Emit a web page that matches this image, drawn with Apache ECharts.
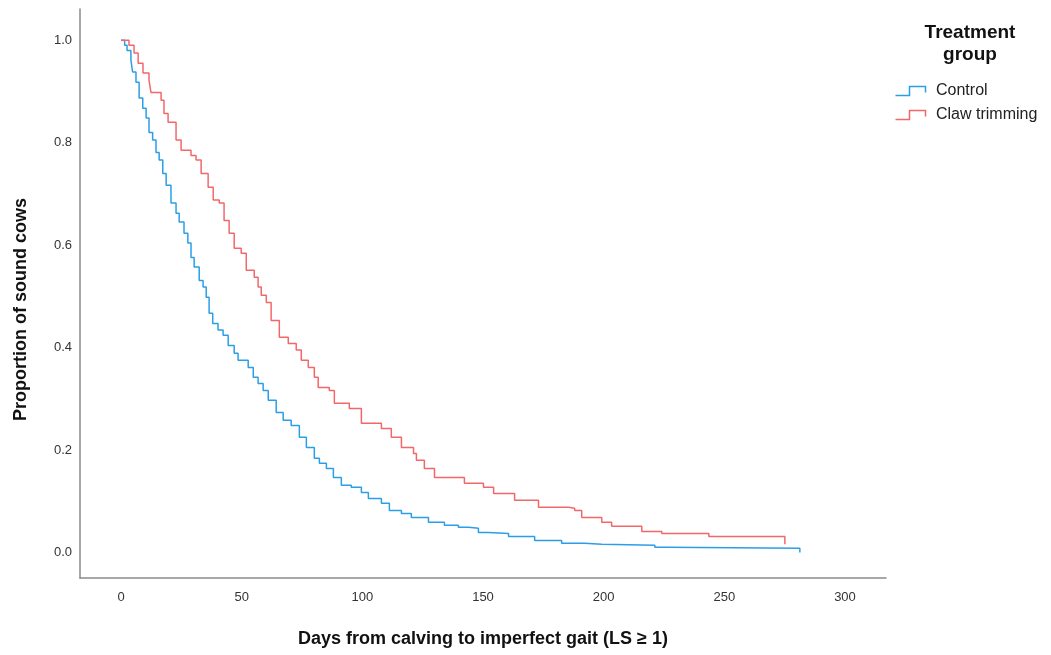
<!DOCTYPE html>
<html>
<head>
<meta charset="utf-8">
<title>Proportion of sound cows</title>
<script src="https://cdn.jsdelivr.net/npm/echarts@6/dist/echarts.min.js"></script>
<style>
  html, body { margin: 0; padding: 0; background: #fff; }
  #chart { width: 1051px; height: 655px; }
</style>
</head>
<body>
<div id="chart"></div>
<script>
// 读取自原图的阶梯点 (天数, 生存比例)
var controlDays = [0, 1.5, 2.5, 4.1, 4.8, 6.2, 7.5, 9.0, 10.4, 11.6, 13.1, 14.5, 15.8, 17.3, 18.7, 20.7,
    22.8, 24.1, 26.1, 27.7, 29.0, 30.3, 32.4, 34.0, 35.3, 36.5, 38.0, 40.2, 42.3, 44.4, 46.9, 48.5,
    52.7, 54.8, 56.8, 58.9, 61.0, 64.3, 67.2, 70.5, 73.9, 76.8, 80.1, 82.2, 85.1, 88.0, 91.3, 95.4,
    99.6, 102.5, 107.9, 111.2, 116.2, 120.3, 127.4, 134.0, 139.8, 144.0, 148.1, 152.3, 160.6, 171.4,
    182.6, 192.1, 199.2, 221.2, 226.1, 281.3];
var controlSurv = [1.0, 0.99, 0.98, 0.961, 0.938, 0.918, 0.887, 0.867, 0.848, 0.820, 0.805, 0.781, 0.766, 0.740, 0.717, 0.682,
    0.662, 0.645, 0.623, 0.604, 0.576, 0.557, 0.531, 0.518, 0.498, 0.467, 0.447, 0.434, 0.424, 0.404, 0.389, 0.375,
    0.361, 0.342, 0.330, 0.316, 0.297, 0.273, 0.258, 0.248, 0.225, 0.205, 0.184, 0.174, 0.164, 0.146, 0.131, 0.127,
    0.117, 0.105, 0.096, 0.082, 0.076, 0.068, 0.059, 0.053, 0.049, 0.047, 0.039, 0.037, 0.031, 0.023,
    0.018, 0.016, 0.014, 0.010, 0.008, 0.0];

var trimDays = [0, 3.3, 5.4, 7.1, 9.1, 11.6, 12.4, 16.6, 17.8, 19.5, 22.8, 24.9, 29.0, 31.1, 33.2, 36.1,
    38.2, 40.7, 42.7, 44.8, 46.9, 49.8, 51.9, 55.2, 56.8, 58.1, 60.2, 62.2, 65.6, 69.3, 72.6, 74.7,
    77.6, 80.1, 81.7, 86.3, 88.4, 94.6, 99.6, 107.9, 112.0, 116.2, 121.2, 122.4, 125.7, 129.9, 142.3,
    150.2, 154.4, 163.1, 173.0, 185.5, 188.0, 190.9, 199.2, 203.3, 215.8, 224.1, 243.6, 275.1];
var trimSurv = [1.0, 0.99, 0.975, 0.955, 0.936, 0.922, 0.898, 0.883, 0.857, 0.840, 0.805, 0.785, 0.775, 0.766, 0.740, 0.713,
    0.688, 0.682, 0.648, 0.623, 0.594, 0.584, 0.551, 0.537, 0.518, 0.502, 0.488, 0.453, 0.420, 0.408, 0.395, 0.375,
    0.361, 0.342, 0.322, 0.316, 0.291, 0.281, 0.252, 0.242, 0.225, 0.205, 0.193, 0.180, 0.164, 0.146, 0.135,
    0.127, 0.115, 0.102, 0.088, 0.086, 0.082, 0.068, 0.059, 0.051, 0.041, 0.037, 0.031, 0.016];

var xTicks = [0, 50, 100, 150, 200, 250, 300];
var yTicks = [0, 0.2, 0.4, 0.6, 0.8, 1.0];

function toPairs(xs, ys) {
    var arr = [];
    for (var i = 0; i < xs.length; i++) {
        arr.push([xs[i], ys[i]]);
    }
    return arr;
}

var fontName = "'Liberation Sans', Arial, sans-serif";
var axisGray = '#8a8a8a';
var stepIcon = 'path://M0,9 L14,9 L14,0 L30,0 L30,6';

var myChart = echarts.init(document.getElementById('chart'), null, { renderer: 'canvas' });

var option = {
    animation: false,
    backgroundColor: '#fff',
    textStyle: { fontFamily: fontName },
    grid: { left: 80, right: 165, top: 9, bottom: 77, containLabel: false, outerBoundsMode: 'none' },
    xAxis: {
        type: 'value',
        min: -17,
        max: 317,
        name: 'Days from calving to imperfect gait (LS \u2265 1)',
        nameLocation: 'middle',
        nameGap: 52,
        nameTextStyle: { fontSize: 18, fontWeight: 'bold', color: '#111', fontFamily: fontName },
        axisLine: { show: true, onZero: false, lineStyle: { color: axisGray, width: 1.5 } },
        axisTick: { show: false },
        splitLine: { show: false },
        axisLabel: { customValues: xTicks, fontSize: 13, color: '#333', margin: 13, fontFamily: fontName }
    },
    yAxis: {
        type: 'value',
        min: -0.05,
        max: 1.061,
        name: 'Proportion of sound cows',
        nameLocation: 'middle',
        nameGap: 50,
        nameRotate: 90,
        nameTextStyle: { fontSize: 18, fontWeight: 'bold', color: '#111', fontFamily: fontName, padding: [0, 32, 0, 0] },
        axisLine: { show: true, onZero: false, lineStyle: { color: axisGray, width: 1.5 } },
        axisTick: { show: false },
        splitLine: { show: false },
        axisLabel: {
            customValues: yTicks, fontSize: 13, color: '#333', margin: 8, fontFamily: fontName,
            formatter: function (v) { return v.toFixed(1); }
        }
    },
    legend: {
        orient: 'vertical',
        left: 888,
        top: 78,
        itemWidth: 33,
        itemHeight: 9,
        itemGap: 8,
        textStyle: { fontSize: 16, color: '#222', fontFamily: fontName, padding: [0, 0, 0, 4] },
        data: [
            { name: 'Control', icon: stepIcon, itemStyle: { color: 'none', borderColor: '#2a9fe8', borderWidth: 1.5 } },
            { name: 'Claw trimming', icon: stepIcon, itemStyle: { color: 'none', borderColor: '#f2686a', borderWidth: 1.5 } }
        ]
    },
    graphic: [{
        type: 'text',
        x: 970,
        y: 22,
        style: {
            text: 'Treatment\ngroup',
            textAlign: 'center',
            fontSize: 19,
            lineHeight: 22,
            fontWeight: 'bold',
            fill: '#111',
            fontFamily: fontName
        }
    }],
    series: [
        {
            name: 'Control',
            type: 'line',
            step: 'end',
            showSymbol: false,
            color: '#2a9fe8',
            lineStyle: { width: 1.5, color: '#2a9fe8' },
            data: toPairs(controlDays, controlSurv)
        },
        {
            name: 'Claw trimming',
            type: 'line',
            step: 'end',
            showSymbol: false,
            color: '#f2686a',
            lineStyle: { width: 1.5, color: '#f2686a' },
            data: toPairs(trimDays, trimSurv)
        }
    ]
};

myChart.setOption(option);
</script>
</body>
</html>
